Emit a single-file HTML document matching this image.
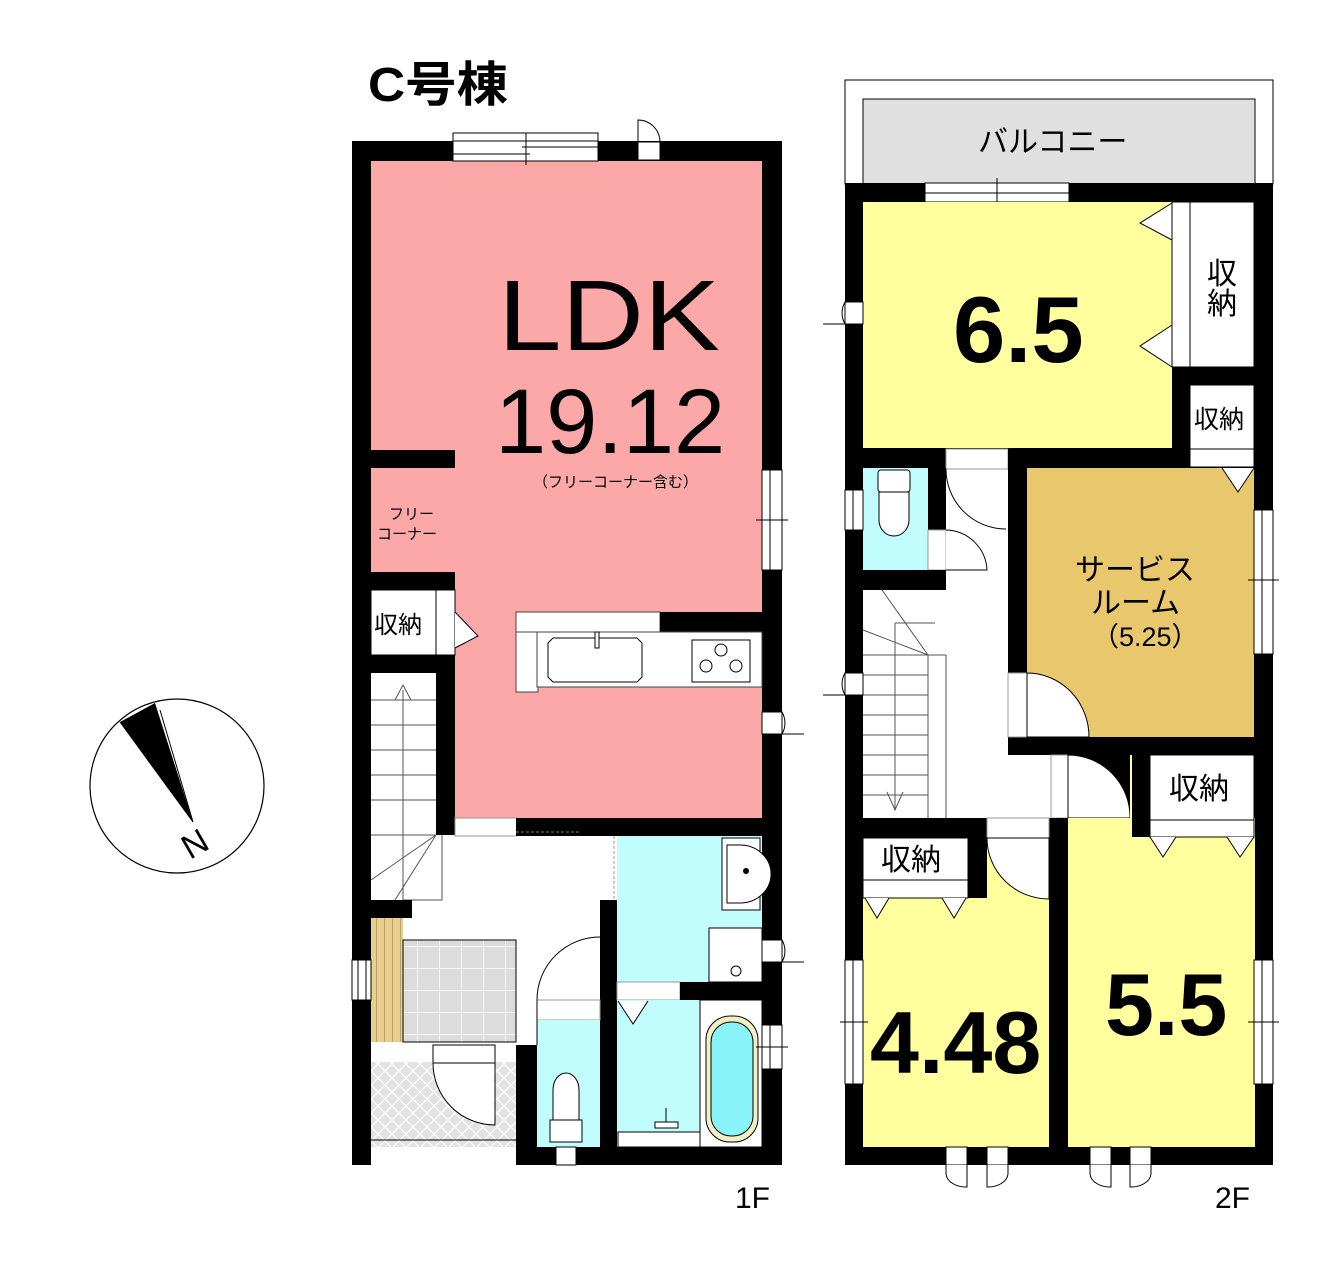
<!DOCTYPE html>
<html><head><meta charset="utf-8"><style>
html,body{margin:0;padding:0;background:#fff;}
svg{display:block}
text{font-family:"Liberation Sans","Noto Sans CJK JP",sans-serif;}
</style></head><body>
<svg width="1339" height="1269" viewBox="0 0 1339 1269" xmlns="http://www.w3.org/2000/svg">
<defs>
<pattern id="tile" width="22" height="22" patternUnits="userSpaceOnUse"><rect width="22" height="22" fill="#dcdcdc"/><path d="M0 0H22V22" fill="none" stroke="#fff" stroke-width="1.5"/></pattern>
<pattern id="hatch" width="14" height="14" patternUnits="userSpaceOnUse"><rect width="14" height="14" fill="#e2e2e2"/><path d="M0 0L14 14M14 0L0 14" stroke="#fff" stroke-width="1.2"/></pattern>
<pattern id="shoe" width="8" height="10" patternUnits="userSpaceOnUse"><rect width="8" height="10" fill="#e8cf8c"/><path d="M0 0V10" stroke="#8a7a4a" stroke-width="1"/></pattern>
</defs>

<text x="368" y="101" font-size="48" font-weight="bold" textLength="140" lengthAdjust="spacingAndGlyphs">C号棟</text>

<!-- ===== 1F ===== -->
<rect x="352" y="141" width="430" height="1024" fill="#000"/>
<rect x="371" y="161" width="391" height="986" fill="#fff"/>
<path d="M371 161H762V818H455V572H371Z" fill="#fca8a8"/>
<rect x="371" y="450" width="84" height="18" fill="#000"/>
<rect x="453" y="133" width="145" height="28" fill="#fff" stroke="#000" stroke-width="1"/>
<path d="M453 141H598M453 154H530M522 147H598M526 133V165" stroke="#000" stroke-width="1" fill="none"/>
<rect x="638" y="142" width="22" height="18" fill="#fff" stroke="#000" stroke-width="1"/>
<path d="M638 142V120A22 22 0 0 1 660 142" fill="none" stroke="#000"/>
<rect x="762" y="470" width="20" height="100" fill="#fff" stroke="#000"/>
<path d="M770 470V570M756 520H788" stroke="#000"/>
<rect x="762" y="712" width="20" height="22" fill="#fff" stroke="#000"/>
<path d="M782 712A22 22 0 0 1 782 734H804" fill="none" stroke="#000"/>
<text x="389" y="519" font-size="15">フリー</text>
<text x="377" y="539" font-size="15">コーナー</text>
<text x="498" y="350" font-size="100" textLength="222" lengthAdjust="spacingAndGlyphs">LDK</text>
<text x="495" y="453" font-size="92">19.12</text>
<text x="533" y="487" font-size="15">（フリーコーナー含む）</text>
<rect x="352" y="572" width="103" height="18" fill="#000"/>
<rect x="371" y="590" width="84" height="65" fill="#fff" stroke="#000"/>
<path d="M436 590V655" stroke="#000"/>
<path d="M455 612L478 636L455 648" fill="#fff" stroke="#000"/>
<text x="374" y="633" font-size="24">収納</text>
<rect x="352" y="655" width="103" height="18" fill="#000"/>
<rect x="436" y="655" width="19" height="180" fill="#000"/>
<rect x="371" y="673" width="65" height="227" fill="#fff"/>
<g stroke="#555" stroke-width="1" fill="none">
<path d="M371 700H436M371 725H436M371 750H436M371 775H436M371 800H436M371 835H436"/>
<path d="M403 690V900M395 700L403 685L411 700M403 900H442V835M436 835L371 880M436 835L395 900"/>
</g>
<rect x="352" y="900" width="60" height="18" fill="#000"/>
<rect x="455" y="818" width="62" height="18" fill="#fff" stroke="#999"/>
<rect x="516" y="818" width="266" height="18" fill="#000"/>
<path d="M516 832H580" stroke="#777" stroke-dasharray="3 2"/>
<rect x="516" y="612" width="144" height="20" fill="#fff" stroke="#444"/>
<rect x="660" y="612" width="102" height="20" fill="#000"/>
<rect x="516" y="632" width="22" height="60" fill="#fff" stroke="#444"/>
<rect x="537" y="632" width="225" height="55" fill="#fff" stroke="#444"/>
<path d="M553 638H637L642 643V677L637 682H553L548 677V643Z" fill="#fff" stroke="#000"/>
<rect x="595" y="632" width="4" height="16" fill="#fff" stroke="#000"/>
<rect x="692" y="640" width="58" height="42" fill="#fff" stroke="#000"/>
<g fill="#fff" stroke="#000"><circle cx="721" cy="650" r="6"/><circle cx="706" cy="666" r="6"/><circle cx="736" cy="666" r="6"/></g>
<rect x="617" y="836" width="145" height="146" fill="#c2fdfd"/>
<rect x="722" y="838" width="38" height="72" fill="#fff" stroke="#000"/>
<path d="M727 845H740A30 28 0 0 1 740 903H727Z" fill="#fff" stroke="#000"/>
<circle cx="746" cy="871" r="3"/>
<rect x="709" y="928" width="53" height="54" fill="#fff" stroke="#000"/>
<circle cx="736" cy="971" r="5" fill="#fff" stroke="#000"/>
<rect x="762" y="940" width="20" height="22" fill="#fff" stroke="#000"/>
<path d="M782 940A22 22 0 0 1 782 962H804" fill="none" stroke="#000"/>
<rect x="600" y="900" width="17" height="265" fill="#000"/>
<path d="M614 836V900" stroke="#999" stroke-dasharray="3 2"/>
<rect x="617" y="982" width="63" height="18" fill="#fff" stroke="#999"/>
<rect x="680" y="982" width="102" height="18" fill="#000"/>
<rect x="617" y="1000" width="83" height="147" fill="#c2fdfd"/>
<path d="M618 1001L633 1024L648 1001" fill="#fff" stroke="#000"/>
<rect x="618" y="1132" width="82" height="15" fill="#fff" stroke="#000"/>
<path d="M666 1108V1122M655 1122H678V1128H655Z" stroke="#000" fill="#fff"/>
<rect x="700" y="1000" width="62" height="147" fill="#fff" stroke="#000"/>
<rect x="706" y="1016" width="52" height="126" rx="24" fill="#f3f0c4" stroke="#000"/>
<rect x="711" y="1022" width="42" height="114" rx="20" fill="#88f4fa" stroke="#000"/>
<rect x="762" y="1025" width="20" height="44" fill="#fff" stroke="#000"/>
<path d="M770 1025V1069M756 1047H788" stroke="#000"/>
<rect x="516" y="1045" width="21" height="120" fill="#000"/>
<rect x="537" y="1000" width="63" height="20" fill="#fff" stroke="#999"/>
<rect x="537" y="1020" width="63" height="127" fill="#c2fdfd"/>
<path d="M537 1000A63 63 0 0 1 600 937" fill="none" stroke="#000"/>
<path d="M537 1000V1045" stroke="#000"/>
<path d="M553 1120V1090A13 17 0 0 1 579 1090V1120Z" fill="#fff" stroke="#000"/>
<rect x="550" y="1120" width="32" height="22" fill="#fff" stroke="#000"/>
<rect x="556" y="1147" width="20" height="18" fill="#fff" stroke="#000"/>
<rect x="371" y="918" width="145" height="127" fill="#fff"/>
<rect x="371" y="918" width="32" height="124" fill="url(#shoe)"/>
<rect x="403" y="940" width="113" height="102" fill="url(#tile)" stroke="#000"/>
<rect x="352" y="960" width="19" height="40" fill="#fff" stroke="#000"/>
<path d="M358 960V1000M366 960V1000" stroke="#000"/>
<rect x="371" y="1062" width="145" height="103" fill="url(#hatch)"/>
<rect x="352" y="1147" width="19" height="18" fill="#000"/>
<rect x="433" y="1045" width="62" height="18" fill="#fff" stroke="#000"/>
<path d="M433 1063H495V1125A62 62 0 0 1 433 1063" fill="#fff" stroke="#000"/>
<rect x="371" y="1147" width="145" height="18" fill="#fff"/>
<path d="M371 1140H516" stroke="#000"/>
<text x="735" y="1208" font-size="30">1F</text>

<!-- ===== 2F ===== -->
<rect x="845" y="80" width="428" height="104" fill="#fff" stroke="#000" stroke-width="1"/>
<rect x="863" y="99" width="392" height="85" fill="#e0e0e0" stroke="#000" stroke-width="1"/>
<text x="978" y="152" font-size="30">バルコニー</text>
<rect x="845" y="183" width="428" height="982" fill="#000"/>
<rect x="925" y="183" width="144" height="19" fill="#fff" stroke="#000"/>
<path d="M925 193H1069M997 178V208" stroke="#000"/>
<rect x="863" y="202" width="309" height="246" fill="#ffff9e"/>
<rect x="1172" y="202" width="18" height="165" fill="#fff" stroke="#000"/>
<rect x="1190" y="202" width="64" height="165" fill="#fff" stroke="#000"/>
<path d="M1172 203L1140 223L1172 240ZM1172 325L1140 346L1172 367Z" fill="#fff" stroke="#000"/>
<text x="1207" y="284" font-size="30">収</text>
<text x="1207" y="314" font-size="30">納</text>
<text x="953" y="362" font-size="94" font-weight="bold">6.5</text>
<rect x="1190" y="385" width="64" height="64" fill="#fff" stroke="#000"/>
<rect x="1190" y="449" width="64" height="18" fill="#fff" stroke="#000"/>
<text x="1194" y="428" font-size="25">収納</text>
<rect x="845" y="302" width="18" height="22" fill="#fff" stroke="#000"/>
<path d="M845 302A22 22 0 0 0 845 324H823" fill="none" stroke="#000"/>
<rect x="946" y="449" width="62" height="389" fill="#fff"/>
<rect x="946" y="449" width="62" height="20" fill="#fff" stroke="#999"/>
<path d="M946 469A60 60 0 0 0 1006 529" fill="none" stroke="#000"/>
<rect x="863" y="468" width="65" height="102" fill="#c2fdfd"/>
<rect x="928" y="468" width="18" height="62" fill="#000"/>
<rect x="928" y="530" width="18" height="40" fill="#fff" stroke="#999"/>
<path d="M946 530A42 42 0 0 1 987 570H946" fill="#fff" stroke="#000"/>
<rect x="878" y="470" width="32" height="22" rx="3" fill="#fff" stroke="#000"/>
<path d="M879 492H909V520A15 16 0 0 1 879 520Z" fill="#fff" stroke="#000"/>
<rect x="845" y="490" width="18" height="40" fill="#fff" stroke="#000"/>
<path d="M853 490V530" stroke="#000"/>
<rect x="845" y="570" width="101" height="20" fill="#000"/>
<rect x="863" y="590" width="83" height="228" fill="#fff"/>
<g stroke="#555" stroke-width="1" fill="none">
<path d="M863 655H928M863 675H928M863 695H928M863 715H928M863 735H928M863 755H928M863 775H928M863 795H928"/>
<path d="M895 623V810M887 792L895 810L903 792M895 623H935M928 655V818M946 655V818M928 655H946M863 630L928 655M882 590L928 655"/>
</g>
<rect x="845" y="673" width="18" height="22" fill="#fff" stroke="#000"/>
<path d="M845 673A22 22 0 0 0 845 695H823" fill="none" stroke="#000"/>
<rect x="1027" y="468" width="227" height="269" fill="#e9c76c"/>
<rect x="1008" y="449" width="19" height="306" fill="#000"/>
<rect x="1008" y="673" width="19" height="64" fill="#fff" stroke="#999"/>
<path d="M1027 673A62 64 0 0 1 1089 737H1027Z" fill="#fff" stroke="#000"/>
<path d="M1027 673V737" stroke="#000"/>
<path d="M1222 468L1238 492L1254 468" fill="#fff" stroke="#000"/>
<rect x="1254" y="510" width="19" height="144" fill="#fff" stroke="#000"/>
<path d="M1262 510V654M1248 580H1279" stroke="#000"/>
<text x="1075" y="580" font-size="30">サービス</text>
<text x="1091" y="613" font-size="30">ルーム</text>
<text x="1092" y="646" font-size="27">（5.25）</text>
<rect x="1008" y="755" width="43" height="63" fill="#fff"/>
<rect x="1051" y="755" width="17" height="63" fill="#fff" stroke="#999"/>
<path d="M1068 755A62 62 0 0 1 1130 818H1068Z" fill="#fff" stroke="#000"/>
<rect x="1068" y="818" width="187" height="329" fill="#ffff9e"/>
<rect x="1130" y="755" width="2" height="63" fill="#ffff9e"/>
<rect x="1132" y="755" width="18" height="82" fill="#000"/>
<rect x="1150" y="755" width="104" height="65" fill="#fff" stroke="#000"/>
<rect x="1150" y="820" width="104" height="17" fill="#fff" stroke="#000"/>
<path d="M1150 837L1163 857L1176 837M1227 837L1240 857L1254 837" fill="#fff" stroke="#000"/>
<text x="1169" y="799" font-size="30">収納</text>
<rect x="1049" y="818" width="19" height="347" fill="#000"/>
<rect x="863" y="818" width="124" height="20" fill="#000"/>
<rect x="968" y="818" width="19" height="80" fill="#000"/>
<rect x="987" y="818" width="62" height="20" fill="#fff" stroke="#999"/>
<rect x="863" y="898" width="186" height="249" fill="#ffff9e"/>
<rect x="987" y="838" width="62" height="60" fill="#ffff9e"/>
<path d="M987 838A62 61 0 0 0 1049 899V838Z" fill="#fff" stroke="#000"/>
<rect x="863" y="838" width="105" height="42" fill="#fff" stroke="#000"/>
<rect x="863" y="880" width="105" height="18" fill="#fff" stroke="#000"/>
<path d="M865 898L877 918L889 898M942 898L954 918L966 898" fill="#fff" stroke="#000"/>
<text x="881" y="870" font-size="30">収納</text>
<rect x="845" y="960" width="18" height="124" fill="#fff" stroke="#000"/>
<path d="M853 960V1084M840 1022H868" stroke="#000"/>
<rect x="1254" y="960" width="19" height="124" fill="#fff" stroke="#000"/>
<path d="M1262 960V1084M1248 1022H1279" stroke="#000"/>
<text x="870" y="1073" font-size="88" font-weight="bold">4.48</text>
<text x="1105" y="1035" font-size="88" font-weight="bold">5.5</text>
<g fill="#fff" stroke="#000">
<rect x="946" y="1147" width="21" height="18"/><path d="M946 1165V1174A20 14 0 0 0 967 1187V1165"/>
<rect x="987" y="1147" width="21" height="18"/><path d="M987 1165V1187A20 14 0 0 0 1008 1174V1165"/>
<rect x="1090" y="1147" width="21" height="18"/><path d="M1090 1165V1174A20 14 0 0 0 1111 1187V1165"/>
<rect x="1130" y="1147" width="21" height="18"/><path d="M1130 1165V1187A20 14 0 0 0 1151 1174V1165"/>
</g>
<text x="1215" y="1208" font-size="30">2F</text>

<circle cx="177" cy="786" r="87" fill="#fff" stroke="#000" stroke-width="1.2"/>
<path d="M120 722L155 703L193 822Z" fill="#000"/>
<path d="M120 722L193 822L160 710" fill="none" stroke="#000"/>
<text x="0" y="0" font-size="34" font-family="Liberation Serif, serif" transform="translate(190 860) rotate(-30)">N</text>
</svg>
</body></html>
